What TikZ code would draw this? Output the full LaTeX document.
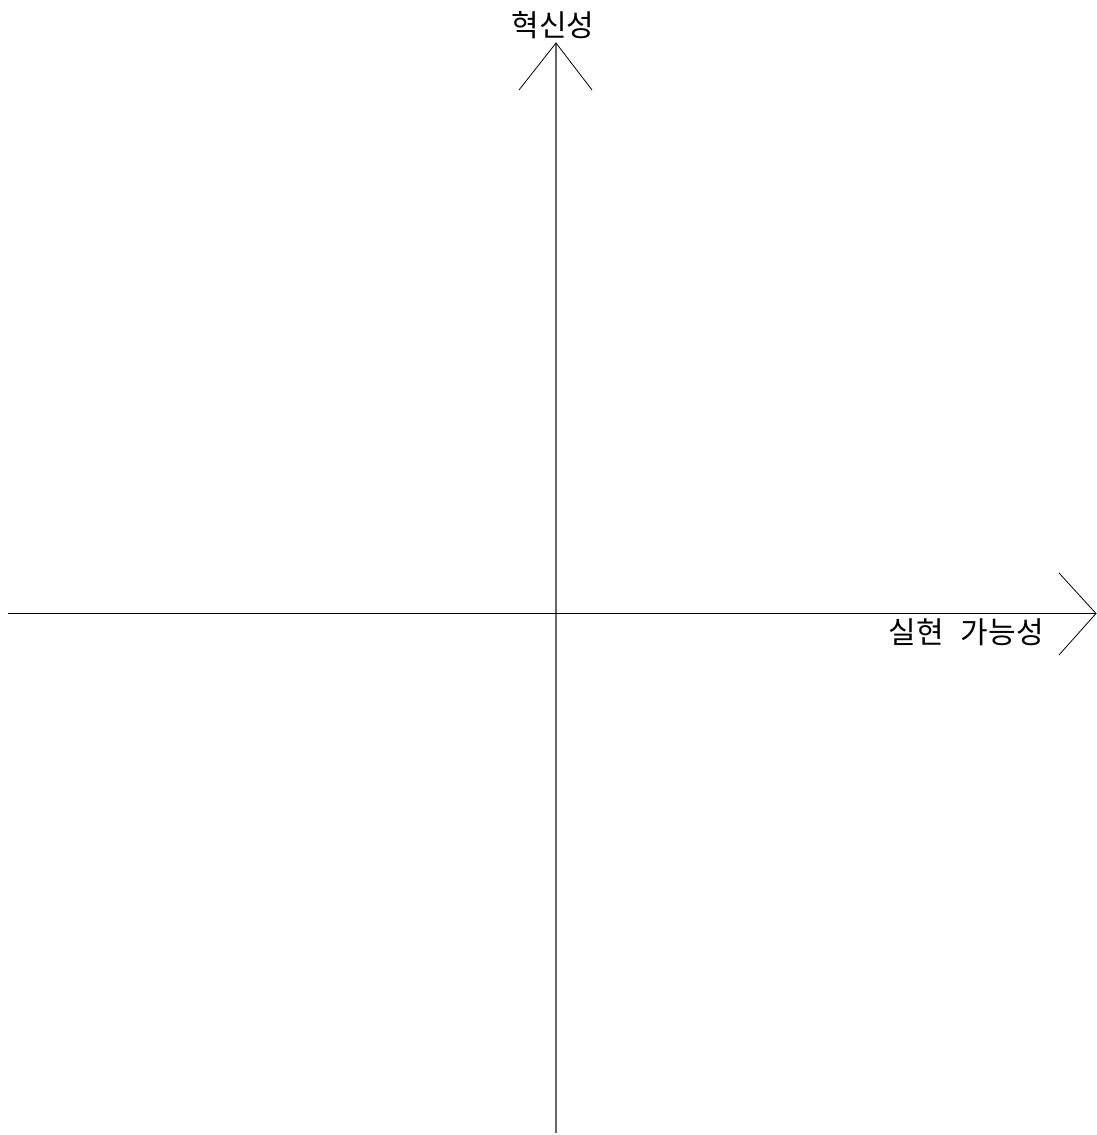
\documentclass[tikz,border=0pt]{standalone}
\usepackage{fontspec}
\setmainfont{Noto Sans CJK KR}
\usetikzlibrary{positioning}

\begin{document}
\begin{tikzpicture}[x=1pt, y=1pt,
  axis/.style={line width=1.4pt},
  yaxis/.style={axis, draw=black!60},
  head/.style={line width=0.8pt},
  lbl/.style={font=\fontsize{30}{36}\selectfont, inner sep=0pt}]
\useasboundingbox (0,0) rectangle (1096,1135);
\coordinate (ytop) at (556,1092);
\coordinate (ybot) at (556,2);
\coordinate (xleft) at (8,521.5);
\coordinate (xtip) at (1096,521.5);
\coordinate (yl) at (519,1045);
\coordinate (yr) at (592,1045);
\coordinate (xu) at (1059,562);
\coordinate (xd) at (1059,480);
\draw[yaxis] (ybot) -- (ytop);
\draw[axis] (xleft) -- (xtip);
\draw[head] (yl) -- (ytop) -- (yr);
\draw[head] (xu) -- (xtip) -- (xd);
\node[lbl, above=4pt of ytop, xshift=-3pt] (ylab) {혁신성};
\node[lbl, below left=5pt and 52pt of xtip] (xlab) {실현\hspace{17pt}가능성};
\end{tikzpicture}
\end{document}
